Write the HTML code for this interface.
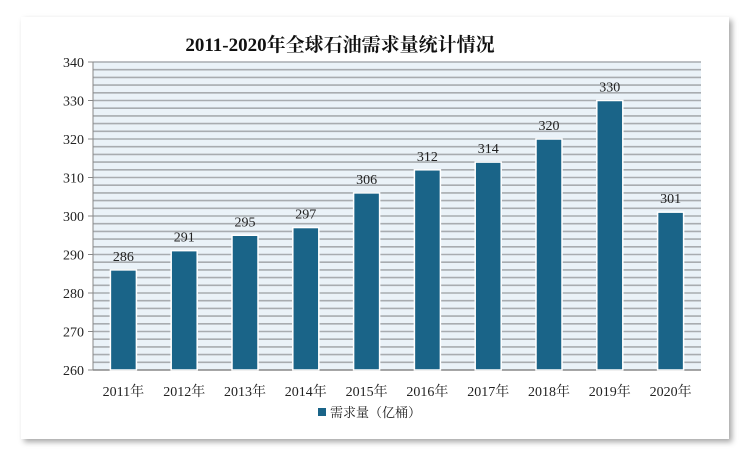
<!DOCTYPE html>
<html><head><meta charset="utf-8"><style>
body{margin:0;background:#fff;width:750px;height:457px;overflow:hidden;font-family:"Liberation Serif","Noto Serif CJK SC","Noto Sans CJK SC",serif}
</style></head><body>
<svg width="750" height="457">
<defs><filter id="sh" x="-5%" y="-5%" width="110%" height="110%"><feDropShadow dx="3" dy="3" stdDeviation="3" flood-color="#000" flood-opacity="0.35"/></filter></defs>
<rect x="21" y="17" width="708" height="422" fill="#fff" filter="url(#sh)"/>
<text x="340" y="51" text-anchor="middle" font-size="19" font-weight="bold" fill="#111">2011-2020年全球石油需求量统计情况</text>
<rect x="93" y="62" width="608" height="308" fill="#eaf2f8"/>
<g id="grid"></g><g id="axes"></g><g id="bars"></g>
<rect x="318" y="408" width="8" height="8" fill="#1a6488"/>
<text x="330" y="417" font-size="13" fill="#222">需求量（亿桶）</text>
</svg>
<script>
const categories=["2011年","2012年","2013年","2014年","2015年","2016年","2017年","2018年","2019年","2020年"];
const values=[286,291,295,297,306,312,314,320,330,301];
const yTicks=[260,270,280,290,300,310,320,330,340];
const X0=93,X1=701,Y0=370,Y1=62,MIN=260,MAX=340;
const ns="http://www.w3.org/2000/svg";
const y=v=>Y0-(v-MIN)/(MAX-MIN)*(Y0-Y1);
const bw=(X1-X0)/categories.length;
const x=i=>X0+bw*(i+0.5);
function mk(t,a,p){const e=document.createElementNS(ns,t);for(const k in a)e.setAttribute(k,a[k]);p.appendChild(e);return e;}
const g=document.getElementById('grid'),ax=document.getElementById('axes'),bs=document.getElementById('bars');
for(let v=MIN+2;v<=MAX;v+=2){const l=mk('line',{x1:X0,x2:X1,y1:y(v),y2:y(v),stroke:'#a8acb0','stroke-width':1.6},g);

}
yTicks.forEach(v=>{const t=mk('text',{x:X0-9,y:y(v)+5,'text-anchor':'end','font-size':14,fill:'#222'},ax);t.textContent=v;


mk('line',{x1:X0-5,x2:X0,y1:y(v),y2:y(v),stroke:'#888'},ax);});
mk('line',{x1:X0,x2:X0,y1:Y1,y2:Y0,stroke:'#888'},ax);
mk('line',{x1:X0,x2:X1,y1:Y0,y2:Y0,stroke:'#888','stroke-width':1.5},ax);
categories.forEach((c,i)=>{
const r=mk('rect',{x:x(i)-13,y:y(values[i]),width:26,height:Y0-y(values[i]),fill:'#1a6488',stroke:'#fff','stroke-width':1.5},bs);


const t=mk('text',{x:x(i),y:y(values[i])-9,'text-anchor':'middle','font-size':14,fill:'#222'},bs);t.textContent=values[i];


const xl=mk('text',{x:x(i),y:Y0+26,'text-anchor':'middle','font-size':14,fill:'#222'},ax);xl.textContent=c;


});
</script>
</body></html>
